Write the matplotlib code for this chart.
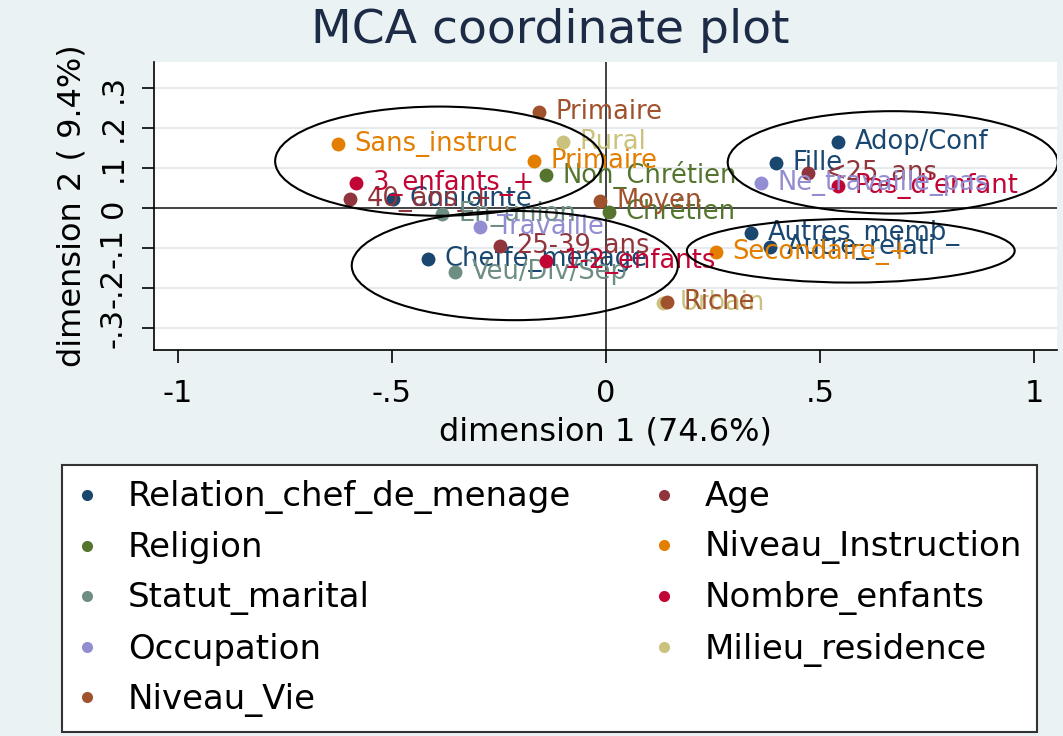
import matplotlib
matplotlib.use("Agg")
import matplotlib.pyplot as plt
from matplotlib.patches import Ellipse
from matplotlib.lines import Line2D

# variable groups (Stata order) with their category coordinates
groups = ["Relation_chef_de_menage", "Age", "Religion", "Niveau_Instruction",
          "Statut_marital", "Nombre_enfants", "Occupation", "Milieu_residence",
          "Niveau_Vie"]
colors = ["#1a476f", "#90353b", "#55752f", "#e37e00", "#6e8e84",
          "#c10534", "#938dd2", "#cac27e", "#a0522d"]

relation_lab = ["Adop/Conf", "Fille", "Autres_memb_", "Autre_relati", "Cheffe_menage", "Conjointe"]
relation_x = [0.542, 0.397, 0.339, 0.383, -0.416, -0.498]
relation_y = [0.164, 0.112, -0.062, -0.097, -0.127, 0.022]

age_lab = ["<25_ans", "25-39_ans", "40_ans_+"]
age_x = [0.472, -0.248, -0.598]
age_y = [0.087, -0.094, 0.022]

religion_lab = ["Non_Chrétien", "Chrétien"]
religion_x = [-0.140, 0.007]
religion_y = [0.082, -0.010]

instr_lab = ["Sans_instruc", "Primaire", "Secondaire_+"]
instr_x = [-0.626, -0.168, 0.257]
instr_y = [0.159, 0.117, -0.109]

statut_lab = ["En_union", "Veu/Div/Sep"]
statut_x = [-0.383, -0.353]
statut_y = [-0.015, -0.161]

enfants_lab = ["3_enfants_+", "1-2_enfants", "Pas_d'enfant"]
enfants_x = [-0.584, -0.140, 0.542]
enfants_y = [0.062, -0.132, 0.055]

occup_lab = ["Travaille", "Ne_travaille_pas"]
occup_x = [-0.294, 0.362]
occup_y = [-0.047, 0.062]

milieu_lab = ["Rural", "Urbain"]
milieu_x = [-0.100, 0.133]
milieu_y = [0.164, -0.238]

vie_lab = ["Primaire", "Moyen", "Riche"]
vie_x = [-0.157, -0.014, 0.143]
vie_y = [0.241, 0.017, -0.236]

all_lab = [relation_lab, age_lab, religion_lab, instr_lab, statut_lab,
           enfants_lab, occup_lab, milieu_lab, vie_lab]
all_x = [relation_x, age_x, religion_x, instr_x, statut_x,
         enfants_x, occup_x, milieu_x, vie_x]
all_y = [relation_y, age_y, religion_y, instr_y, statut_y,
         enfants_y, occup_y, milieu_y, vie_y]

# ellipses around clusters: centre x, centre y, width, height
ell_cx = [-0.390, -0.213, 0.670, 0.572]
ell_cy = [0.117, -0.144, 0.114, -0.107]
ell_w = [0.766, 0.762, 0.771, 0.766]
ell_h = [0.273, 0.273, 0.256, 0.159]

bg = "#eaf2f3"
fig = plt.figure(figsize=(10.63, 7.36), dpi=100, facecolor=bg)
ax = fig.add_axes([0.1449, 0.5245, 0.8495, 0.3913])
ax.set_facecolor("white")

for y in [-0.3, -0.2, -0.1, 0.1, 0.2, 0.3]:
    ax.axhline(y, color="#dfe6ea", lw=1.2, zorder=0)
ax.axhline(0, color="#222222", lw=1.2, zorder=1)
ax.axvline(0, color="#222222", lw=1.2, zorder=1)

for g in range(len(groups)):
    ax.plot(all_x[g], all_y[g], "o", color=colors[g], ms=10, mec="none", zorder=3)
    for lab, x, y in zip(all_lab[g], all_x[g], all_y[g]):
        ax.annotate(lab, (x, y), xytext=(12, 0), textcoords="offset points",
                    va="center", ha="left", fontsize=18.5, color=colors[g], zorder=3)

for cx, cy, w, h in zip(ell_cx, ell_cy, ell_w, ell_h):
    ax.add_patch(Ellipse((cx, cy), w, h, fill=False, ec="black", lw=1.5, zorder=4))

ax.set_xlim(-1.056, 1.054)
ax.set_ylim(-0.355, 0.365)
ax.set_xticks([-1, -0.5, 0, 0.5, 1])
ax.set_xticklabels(["-1", "-.5", "0", ".5", "1"])
ax.set_yticks([-0.3, -0.2, -0.1, 0, 0.1, 0.2, 0.3])
ax.set_yticklabels(["-.3", "-.2", "-.1", "0", ".1", ".2", ".3"], rotation=90, va="center")
ax.tick_params(axis="x", labelsize=22, length=9, width=1.2, pad=12)
ax.tick_params(axis="y", labelsize=22, length=9, width=1.2, pad=10)
for s in ["top", "right"]:
    ax.spines[s].set_visible(False)
for s in ["left", "bottom"]:
    ax.spines[s].set_linewidth(1.2)

ax.set_xlabel("dimension 1 (74.6%)", fontsize=23, labelpad=6)
ax.set_ylabel("dimension 2 ( 9.4%)", fontsize=23, labelpad=8)

fig.text(0.518, 0.958, "MCA coordinate plot", fontsize=34, color="#1e2b46",
         ha="center", va="center")

# legend in row-major order like Stata (column-major for matplotlib)
order = [0, 2, 4, 6, 8, 1, 3, 5, 7]
handles = [Line2D([], [], marker="o", ls="none", color=colors[i], mec="none", ms=8)
           for i in order]
labels = [groups[i] for i in order]
leg = fig.legend(handles, labels, ncol=2, loc="upper left",
                 bbox_to_anchor=(0.058, 0.005, 0.918, 0.363), mode="expand",
                 fontsize=24.5, frameon=True, fancybox=False, edgecolor="#333333",
                 facecolor="white", framealpha=1,
                 labelspacing=0.5, handletextpad=0.9, borderpad=0.45,
                 handlelength=0.6, borderaxespad=0)
leg.get_frame().set_linewidth(1.5)

fig.savefig("out.png", dpi=100, facecolor=bg)
